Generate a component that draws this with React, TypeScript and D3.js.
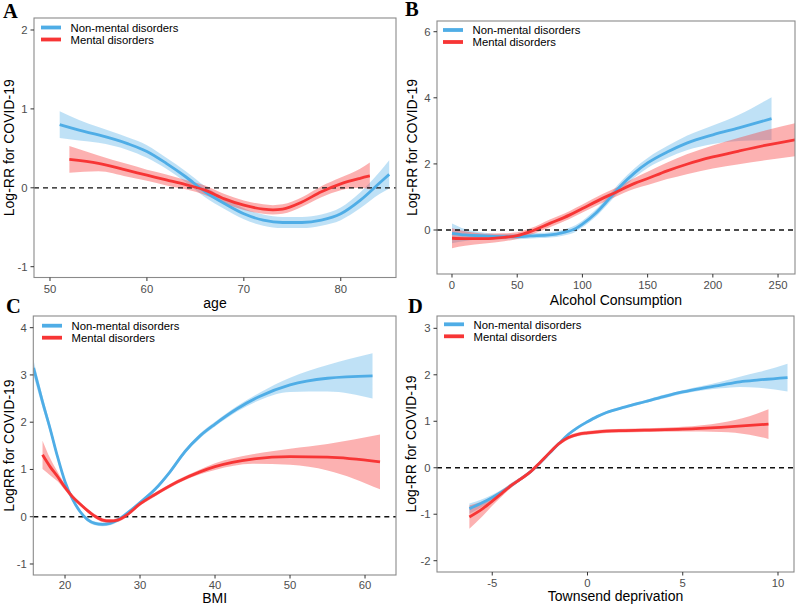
import React from "react";
import * as d3 from "d3";

// ---------- Panel A: age ----------
const ageBlueX = [51, 53, 55, 58, 60, 62, 64, 66, 68, 70, 72, 74, 76, 78, 80, 82, 84, 85];
const ageBlueY = [0.8, 0.73, 0.67, 0.56, 0.46, 0.31, 0.14, -0.05, -0.2, -0.33, -0.41, -0.44, -0.44, -0.41, -0.33, -0.16, 0.06, 0.17];
const ageBlueH = [0.17, 0.13, 0.1, 0.08, 0.08, 0.07, 0.07, 0.07, 0.07, 0.07, 0.07, 0.07, 0.07, 0.07, 0.08, 0.1, 0.14, 0.18];
const ageRedX = [52, 55, 58, 60, 62, 64, 66, 68, 70, 72, 73, 74, 76, 78, 80, 82, 83];
const ageRedY = [0.36, 0.31, 0.22, 0.16, 0.1, 0.04, -0.03, -0.14, -0.22, -0.27, -0.28, -0.27, -0.18, -0.05, 0.05, 0.12, 0.15];
const ageRedH = [0.17, 0.1, 0.08, 0.07, 0.07, 0.06, 0.06, 0.06, 0.06, 0.06, 0.06, 0.06, 0.06, 0.07, 0.08, 0.12, 0.17];

// ---------- Panel B: alcohol ----------
const alcBlueX = [0, 10, 25, 40, 50, 60, 75, 85, 95, 100, 110, 120, 130, 140, 150, 165, 180, 200, 220, 245];
const alcBlueY = [-0.1, -0.15, -0.18, -0.2, -0.2, -0.18, -0.15, -0.08, 0.05, 0.18, 0.5, 0.92, 1.36, 1.73, 2.03, 2.36, 2.63, 2.88, 3.09, 3.37];
const alcBlueH = [0.3, 0.18, 0.1, 0.08, 0.08, 0.08, 0.08, 0.09, 0.1, 0.1, 0.11, 0.12, 0.13, 0.14, 0.15, 0.18, 0.22, 0.28, 0.4, 0.65];
const alcRedX = [0, 10, 25, 40, 50, 60, 75, 90, 100, 115, 125, 140, 150, 165, 180, 200, 220, 240, 263];
const alcRedY = [-0.25, -0.26, -0.26, -0.22, -0.17, -0.05, 0.2, 0.45, 0.65, 0.95, 1.13, 1.41, 1.56, 1.79, 1.99, 2.21, 2.39, 2.56, 2.73];
const alcRedH = [0.3, 0.22, 0.15, 0.12, 0.1, 0.1, 0.12, 0.12, 0.12, 0.13, 0.13, 0.16, 0.2, 0.25, 0.3, 0.35, 0.4, 0.45, 0.5];

// ---------- Panel C: BMI ----------
const bmiBlueX = [15.8, 17, 18, 19, 20, 21, 22, 23, 24, 25, 26, 27, 28, 30, 32, 34, 36, 38, 40, 43, 46, 50, 55, 61];
const bmiBlueY = [3.15, 2.43, 1.87, 1.27, 0.74, 0.37, 0.11, -0.06, -0.14, -0.16, -0.14, -0.07, 0.04, 0.3, 0.58, 0.95, 1.38, 1.71, 1.96, 2.29, 2.55, 2.79, 2.93, 2.98];
const bmiBlueH = [0.16, 0.12, 0.09, 0.07, 0.05, 0.04, 0.04, 0.04, 0.04, 0.04, 0.04, 0.04, 0.04, 0.04, 0.04, 0.04, 0.04, 0.05, 0.05, 0.06, 0.08, 0.15, 0.28, 0.48];
const bmiRedX = [17, 18, 19, 20, 21, 22, 23, 24, 25, 26, 27, 28, 30, 32, 35, 38, 40, 45, 50, 55, 62];
const bmiRedY = [1.31, 1.06, 0.85, 0.62, 0.42, 0.27, 0.13, 0.01, -0.07, -0.09, -0.07, 0.01, 0.27, 0.47, 0.74, 0.95, 1.06, 1.22, 1.27, 1.26, 1.16];
const bmiRedH = [0.3, 0.18, 0.1, 0.06, 0.05, 0.04, 0.04, 0.04, 0.04, 0.04, 0.04, 0.04, 0.04, 0.04, 0.04, 0.05, 0.07, 0.1, 0.17, 0.28, 0.58];

// ---------- Panel D: Townsend ----------
const tdiBlueX = [-6.2, -5.5, -5, -4.5, -4, -3.5, -3, -2.5, -2, -1.5, -1, -0.5, 0, 0.5, 1, 2, 3, 4, 5, 6, 7, 8, 9, 10.5];
const tdiBlueY = [-0.88, -0.75, -0.64, -0.52, -0.38, -0.24, -0.09, 0.1, 0.31, 0.52, 0.72, 0.87, 0.99, 1.1, 1.19, 1.31, 1.42, 1.53, 1.63, 1.71, 1.78, 1.85, 1.89, 1.94];
const tdiBlueH = [0.11, 0.08, 0.06, 0.05, 0.04, 0.03, 0.03, 0.03, 0.03, 0.03, 0.03, 0.03, 0.03, 0.03, 0.03, 0.03, 0.03, 0.04, 0.04, 0.05, 0.07, 0.11, 0.17, 0.3];
const tdiRedX = [-6.2, -5.5, -5, -4.5, -4, -3.5, -3, -2.5, -2, -1.5, -1, -0.5, 0, 1, 2, 3, 5, 7, 8.5, 9.5];
const tdiRedY = [-1.06, -0.88, -0.72, -0.55, -0.38, -0.24, -0.09, 0.11, 0.32, 0.52, 0.65, 0.72, 0.75, 0.79, 0.8, 0.81, 0.83, 0.87, 0.91, 0.94];
const tdiRedH = [0.25, 0.16, 0.1, 0.07, 0.05, 0.04, 0.04, 0.04, 0.04, 0.04, 0.04, 0.04, 0.04, 0.04, 0.04, 0.04, 0.05, 0.1, 0.2, 0.32];

// ---------- ticks / labels ----------
const legendLabels = ["Non-mental disorders", "Mental disorders"];
const ageTicksX = [50, 60, 70, 80];
const ageTicksY = [-1, 0, 1, 2];
const alcTicksX = [0, 50, 100, 150, 200, 250];
const alcTicksY = [0, 2, 4, 6];
const bmiTicksX = [20, 30, 40, 50, 60];
const bmiTicksY = [-1, 0, 1, 2, 3, 4];
const tdiTicksX = [-5, 0, 5, 10];
const tdiTicksY = [-2, -1, 0, 1, 2, 3];

const BLUE = "#4FADE6";
const RED = "#F73535";
const BLUE_FILL = "rgba(86,176,232,0.38)";
const RED_FILL = "rgba(247,60,60,0.4)";
const SANS = "Liberation Sans, Arial, sans-serif";

type Ser = { x: number[]; y: number[]; h: number[] };
type Cfg = {
  letter: string;
  lx: number;
  ly: number;
  box: [number, number, number, number];
  xd: [number, number];
  yd: [number, number];
  xt: number[];
  yt: number[];
  xLabOff: number;
  xTitle: string;
  xTitleY: number;
  yTitle: string;
  yTitleX: number;
  legX: number;
  legY: number;
  blue: Ser;
  red: Ser;
};

const panels: Cfg[] = [
  {
    letter: "A", lx: 3, ly: 18, box: [34, 396, 18, 277.5], xd: [48.35, 85.7], yd: [-1.137, 2.152],
    xt: ageTicksX, yt: ageTicksY, xLabOff: 15, xTitle: "age", xTitleY: 308, yTitle: "Log-RR for COVID-19", yTitleX: 14,
    legX: 41, legY: 27.5,
    blue: { x: ageBlueX, y: ageBlueY, h: ageBlueH }, red: { x: ageRedX, y: ageRedY, h: ageRedH },
  },
  {
    letter: "B", lx: 405, ly: 16, box: [437, 795, 21, 274], xd: [-11.5, 263], yd: [-1.331, 6.324],
    xt: alcTicksX, yt: alcTicksY, xLabOff: 15, xTitle: "Alcohol Consumption", xTitleY: 305, yTitle: "Log-RR for COVID-19", yTitleX: 417,
    legX: 443, legY: 30,
    blue: { x: alcBlueX, y: alcBlueY, h: alcBlueH }, red: { x: alcRedX, y: alcRedY, h: alcRedH },
  },
  {
    letter: "C", lx: 6, ly: 313, box: [33.3, 396, 316, 575], xd: [15.77, 64.13], yd: [-1.233, 4.247],
    xt: bmiTicksX, yt: bmiTicksY, xLabOff: 14.3, xTitle: "BMI", xTitleY: 603, yTitle: "LogRR for COVID-19", yTitleX: 14,
    legX: 42, legY: 325.7,
    blue: { x: bmiBlueX, y: bmiBlueY, h: bmiBlueH }, red: { x: bmiRedX, y: bmiRedY, h: bmiRedH },
  },
  {
    letter: "D", lx: 408, ly: 313, box: [437, 794, 316, 572], xd: [-7.9, 10.84], yd: [-2.243, 3.265],
    xt: tdiTicksX, yt: tdiTicksY, xLabOff: 15, xTitle: "Townsend deprivation", xTitleY: 601, yTitle: "Log-RR for COVID-19", yTitleX: 416,
    legX: 444, legY: 324.3,
    blue: { x: tdiBlueX, y: tdiBlueY, h: tdiBlueH }, red: { x: tdiRedX, y: tdiRedY, h: tdiRedH },
  },
];

function Panel({ c, idx }: { c: Cfg; idx: number }) {
  const [x0, x1, y0, y1] = c.box;
  const xs = d3.scaleLinear().domain(c.xd).range([x0, x1]);
  const ys = d3.scaleLinear().domain(c.yd).range([y1, y0]);
  const idxs = (s: Ser) => s.x.map((_, i) => i);
  const area = (s: Ser) =>
    d3
      .area<number>()
      .x((i) => xs(s.x[i]))
      .y0((i) => ys(s.y[i] - s.h[i]))
      .y1((i) => ys(s.y[i] + s.h[i]))
      .curve(d3.curveMonotoneX)(idxs(s)) || "";
  const line = (s: Ser) =>
    d3
      .line<number>()
      .x((i) => xs(s.x[i]))
      .y((i) => ys(s.y[i]))
      .curve(d3.curveMonotoneX)(idxs(s)) || "";
  const clipId = `clip${idx}`;
  const cy = (y0 + y1) / 2;
  return (
    <g>
      <defs>
        <clipPath id={clipId}>
          <rect x={x0} y={y0} width={x1 - x0} height={y1 - y0} />
        </clipPath>
      </defs>
      <g clipPath={`url(#${clipId})`}>
        <path d={area(c.blue)} fill={BLUE_FILL} stroke="none" />
        <path d={area(c.red)} fill={RED_FILL} stroke="none" />
        <line x1={x0} x2={x1} y1={ys(0)} y2={ys(0)} stroke="#111" strokeWidth={1.3} strokeDasharray="5,4" />
        <path d={line(c.blue)} fill="none" stroke={BLUE} strokeWidth={2.8} />
        <path d={line(c.red)} fill="none" stroke={RED} strokeWidth={2.8} />
      </g>
      <rect x={x0} y={y0} width={x1 - x0} height={y1 - y0} fill="none" stroke="#8a8a8a" strokeWidth={1.1} />
      {c.xt.map((t) => (
        <g key={"x" + t}>
          <line x1={xs(t)} x2={xs(t)} y1={y1} y2={y1 + 3.5} stroke="#333" strokeWidth={1} />
          <text x={xs(t)} y={y1 + c.xLabOff} textAnchor="middle" fontSize={11.3} fill="#4d4d4d" fontFamily={SANS}>
            {t < 0 ? "-" + Math.abs(t) : String(t)}
          </text>
        </g>
      ))}
      {c.yt.map((t) => (
        <g key={"y" + t}>
          <line x1={x0 - 3.5} x2={x0} y1={ys(t)} y2={ys(t)} stroke="#333" strokeWidth={1} />
          <text x={x0 - 6.5} y={ys(t) + 4} textAnchor="end" fontSize={11.3} fill="#4d4d4d" fontFamily={SANS}>
            {t < 0 ? "-" + Math.abs(t) : String(t)}
          </text>
        </g>
      ))}
      <text x={(x0 + x1) / 2} y={c.xTitleY} textAnchor="middle" fontSize={14} fill="#000" fontFamily={SANS}>
        {c.xTitle}
      </text>
      <text
        transform={`translate(${c.yTitleX},${cy}) rotate(-90)`}
        textAnchor="middle"
        fontSize={14}
        fill="#000"
        fontFamily={SANS}
      >
        {c.yTitle}
      </text>
      {legendLabels.map((lab, i) => (
        <g key={lab}>
          <line
            x1={c.legX}
            x2={c.legX + 20}
            y1={c.legY + i * 12}
            y2={c.legY + i * 12}
            stroke={i === 0 ? BLUE : RED}
            strokeWidth={3.8}
          />
          <text x={c.legX + 29.5} y={c.legY + i * 12 + 4.3} fontSize={11.3} fill="#000" fontFamily={SANS}>
            {lab}
          </text>
        </g>
      ))}
      <text x={c.lx} y={c.ly} fontSize={20.5} fontWeight="bold" fontFamily="Liberation Serif, Times New Roman, serif" fill="#000">
        {c.letter}
      </text>
    </g>
  );
}

export default function App() {
  return (
    <svg
      width={796}
      height={607}
      viewBox="0 0 796 607"
      style={{ position: "absolute", left: 0, top: 0, background: "#fff" }}
    >
      <rect x={0} y={0} width={796} height={607} fill="#fff" />
      {panels.map((c, i) => (
        <Panel key={c.letter} c={c} idx={i} />
      ))}
    </svg>
  );
}
